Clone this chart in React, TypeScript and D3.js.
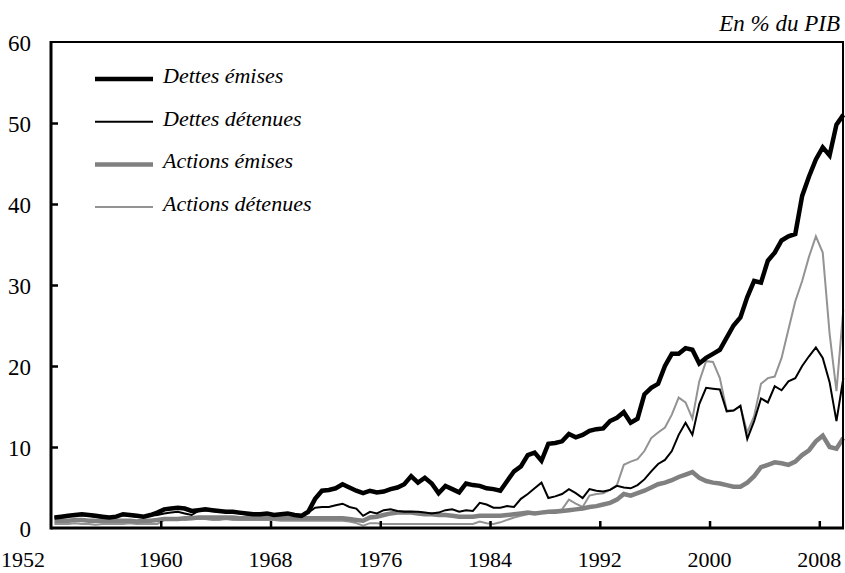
import React, { useEffect, useRef } from 'react';
import * as d3 from 'd3';

// half-yearly observations, 1952 to 2009, placed at mid-semester
const START_YEAR = 1952;

const dettesEmises = [
  1.3, 1.4, 1.5, 1.6, 1.7, 1.6, 1.5, 1.4, 1.3, 1.4, 1.7, 1.6, 1.5, 1.4, 1.6, 1.9,
  2.3, 2.4, 2.5, 2.4, 2.1, 2.2, 2.3, 2.2, 2.1, 2.0, 2.0, 1.9, 1.8, 1.7, 1.7, 1.8,
  1.6, 1.7, 1.8, 1.6, 1.5, 2.0, 3.6, 4.6, 4.7, 4.9, 5.4, 5.0, 4.6, 4.3, 4.6, 4.4,
  4.5, 4.8, 5.0, 5.4, 6.4, 5.6, 6.2, 5.5, 4.3, 5.2, 4.8, 4.4, 5.5, 5.3, 5.2, 4.9,
  4.8, 4.6, 5.8, 7.0, 7.6, 9.0, 9.3, 8.3, 10.4, 10.5, 10.7, 11.6, 11.2, 11.5, 12.0, 12.2,
  12.3, 13.2, 13.6, 14.3, 13.0, 13.5, 16.5, 17.3, 17.8, 20.0, 21.5, 21.5, 22.2, 22.0, 20.3, 21.0,
  21.5, 22.0, 23.5, 25.0, 26.0, 28.5, 30.5, 30.3, 33.0, 34.0, 35.5, 36.0, 36.3, 41.0, 43.4, 45.5,
  47.0, 46.0, 49.8, 51.0,
];

const dettesDetenues = [
  1.3, 1.4, 1.5, 1.5, 1.6, 1.5, 1.4, 1.3, 1.3, 1.4, 1.6, 1.5, 1.4, 1.4, 1.5, 1.6,
  1.8, 1.9, 2.0, 1.8, 1.6, 2.1, 2.2, 2.1, 2.0, 2.0, 1.9, 1.8, 1.7, 1.7, 1.6, 1.7,
  1.6, 1.6, 1.7, 1.6, 1.5, 1.9, 2.5, 2.6, 2.6, 2.8, 3.0, 2.6, 2.4, 1.5, 2.0, 1.8,
  2.2, 2.3, 2.1, 2.0, 2.0, 2.0, 1.9, 1.8, 1.9, 2.2, 2.3, 2.0, 2.2, 2.1, 3.1, 2.9,
  2.5, 2.5, 2.7, 2.6, 3.6, 4.2, 4.9, 5.6, 3.7, 3.9, 4.2, 4.8, 4.3, 3.7, 4.8, 4.6,
  4.5, 4.7, 5.2, 5.0, 4.9, 5.3, 6.0, 7.0, 7.9, 8.4, 9.5, 11.5, 13.0, 11.5, 15.3, 17.3,
  17.2, 17.1, 14.4, 14.5, 15.1, 11.0, 13.2, 16.0, 15.5, 17.5, 17.0, 18.1, 18.5, 20.0, 21.2, 22.3,
  21.0, 18.0, 13.2, 18.5,
];

const actionsEmises = [
  0.9, 0.9, 0.9, 1.0, 1.0, 0.9, 0.9, 0.9, 0.9, 0.9, 0.9, 0.9, 0.8, 0.9, 0.9, 1.0,
  1.1, 1.1, 1.1, 1.2, 1.2, 1.3, 1.3, 1.3, 1.3, 1.3, 1.3, 1.2, 1.2, 1.2, 1.2, 1.2,
  1.2, 1.2, 1.2, 1.2, 1.2, 1.2, 1.2, 1.2, 1.2, 1.2, 1.2, 1.1, 1.0, 0.9, 1.3, 1.4,
  1.6, 1.8, 1.9, 1.9, 1.9, 1.8, 1.7, 1.7, 1.6, 1.6, 1.5, 1.4, 1.4, 1.4, 1.5, 1.5,
  1.5, 1.5, 1.6, 1.7, 1.8, 1.9, 1.8, 1.9, 2.0, 2.0, 2.1, 2.2, 2.3, 2.4, 2.6, 2.7,
  2.9, 3.1, 3.5, 4.2, 4.0, 4.3, 4.6, 5.0, 5.4, 5.6, 5.9, 6.3, 6.6, 6.9, 6.2, 5.8,
  5.6, 5.5, 5.3, 5.1, 5.1, 5.6, 6.4, 7.5, 7.8, 8.1, 8.0, 7.8, 8.2, 9.0, 9.6, 10.7,
  11.4, 10.0, 9.8, 11.1,
];

const actionsDetenues = [
  0.5, 0.5, 0.5, 0.6, 0.5, 0.5, 0.4, 0.5, 0.5, 0.5, 0.5, 0.6, 0.5, 0.5, 0.5, 0.5,
  1.0, 1.1, 1.1, 1.0, 1.1, 1.1, 1.1, 1.0, 1.0, 1.1, 1.0, 1.0, 1.0, 1.0, 1.0, 1.0,
  1.0, 0.9, 0.9, 0.9, 0.9, 0.9, 0.9, 0.9, 0.9, 0.9, 0.9, 0.8, 0.6, 0.3, 0.6, 0.6,
  0.5, 0.5, 0.5, 0.5, 0.5, 0.5, 0.5, 0.5, 0.5, 0.5, 0.5, 0.5, 0.5, 0.5, 0.8, 0.6,
  0.5, 0.7, 1.0, 1.3, 1.5, 1.7, 1.9, 2.0, 2.1, 2.2, 2.3, 3.5, 3.0, 2.6, 4.0, 4.2,
  4.3, 4.7, 5.3, 7.8, 8.2, 8.5, 9.5, 11.1, 11.8, 12.4, 14.0, 16.1, 15.5, 13.5, 18.1, 20.6,
  20.5, 18.5, 14.5, 14.5, 15.0, 11.8, 13.8, 17.8, 18.5, 18.7, 21.0, 24.5, 28.0, 30.5, 33.5, 36.0,
  34.0, 24.0, 16.9, 27.0,
];

const xTicks = [1952, 1960, 1968, 1976, 1984, 1992, 2000, 2008];
const yTicks = [0, 10, 20, 30, 40, 50, 60];

const series = [
  { name: 'Dettes émises', values: dettesEmises, color: '#000000', width: 4.5 },
  { name: 'Dettes détenues', values: dettesDetenues, color: '#000000', width: 2 },
  { name: 'Actions émises', values: actionsEmises, color: '#808080', width: 4.5 },
  { name: 'Actions détenues', values: actionsDetenues, color: '#939393', width: 2 },
];

const W = 845;
const H = 573;
const margin = { top: 42, right: 1, bottom: 45, left: 51 };
const FONT = '"Liberation Serif", "Times New Roman", serif';

export default function App() {
  const ref = useRef<SVGSVGElement | null>(null);

  useEffect(() => {
    const svg = d3.select(ref.current);
    svg.selectAll('*').remove();

    const x = d3.scaleLinear().domain([1952, 2009.8]).range([margin.left, W - margin.right]);
    const y = d3.scaleLinear().domain([0, 60]).range([H - margin.bottom, margin.top]);

    const line = d3.line<number>()
      .x((d, i) => x(START_YEAR + 0.25 + i * 0.5))
      .y(d => y(d));

    // series, drawn back to front
    [...series].reverse().forEach(s => {
      svg.append('path')
        .datum(s.values)
        .attr('fill', 'none')
        .attr('stroke', s.color)
        .attr('stroke-width', s.width)
        .attr('stroke-linejoin', 'miter')
        .attr('d', line);
    });

    // frame: top and right borders
    svg.append('path')
      .attr('d', `M${margin.left},${y(60)}H${x(2009.8) - 1}V${y(0)}`)
      .attr('fill', 'none')
      .attr('stroke', '#000')
      .attr('stroke-width', 2);

    // y axis
    const gy = svg.append('g').attr('transform', `translate(${margin.left},0)`);
    gy.call(d3.axisRight(y).tickValues(yTicks.slice(1, -1)).tickSize(7).tickFormat(() => ''));
    gy.select('.domain').remove();
    gy.selectAll('line').attr('stroke', '#000').attr('stroke-width', 2.5);
    gy.append('line')
      .attr('x1', 0).attr('x2', 0)
      .attr('y1', y(60) - 1).attr('y2', y(0) + 1.5)
      .attr('stroke', '#000').attr('stroke-width', 3);
    svg.append('g')
      .selectAll('text')
      .data(yTicks)
      .join('text')
      .attr('x', 31)
      .attr('y', d => y(d) + 9)
      .attr('text-anchor', 'end')
      .attr('font-family', FONT)
      .attr('font-size', 23)
      .text(d => d);

    // x axis
    const gx = svg.append('g').attr('transform', `translate(0,${y(0)})`);
    gx.call(d3.axisTop(x).tickValues(xTicks.slice(1)).tickSize(7).tickFormat(() => ''));
    gx.select('.domain').remove();
    gx.selectAll('line').attr('stroke', '#000').attr('stroke-width', 2.5);
    gx.append('line')
      .attr('x1', margin.left).attr('x2', x(2009.8))
      .attr('y1', 0).attr('y2', 0)
      .attr('stroke', '#000').attr('stroke-width', 3);
    svg.append('g')
      .selectAll('text')
      .data(xTicks)
      .join('text')
      .attr('x', d => x(d))
      .attr('y', 567)
      .attr('text-anchor', d => (d === 1952 ? 'start' : 'middle'))
      .attr('dx', d => (d === 1952 ? -50 : 0))
      .attr('font-family', FONT)
      .attr('font-size', 22)
      .text(d => d);

    // unit
    svg.append('text')
      .attr('x', 840)
      .attr('y', 31)
      .attr('text-anchor', 'end')
      .attr('font-family', FONT)
      .attr('font-style', 'italic')
      .attr('font-size', 23)
      .text('En % du PIB');

    // legend
    const leg = svg.append('g');
    series.forEach((s, i) => {
      const ly = 79 + i * 42.7;
      leg.append('line')
        .attr('x1', 95).attr('x2', 153)
        .attr('y1', ly).attr('y2', ly)
        .attr('stroke', s.color)
        .attr('stroke-width', s.width);
      leg.append('text')
        .attr('x', 163)
        .attr('y', ly + 4)
        .attr('font-family', FONT)
        .attr('font-style', 'italic')
        .attr('font-size', 22)
        .text(s.name);
    });
  }, []);

  return (
    <svg
      ref={ref}
      width={W}
      height={H}
      style={{ position: 'absolute', left: 0, top: 0, background: '#fff' }}
    />
  );
}
